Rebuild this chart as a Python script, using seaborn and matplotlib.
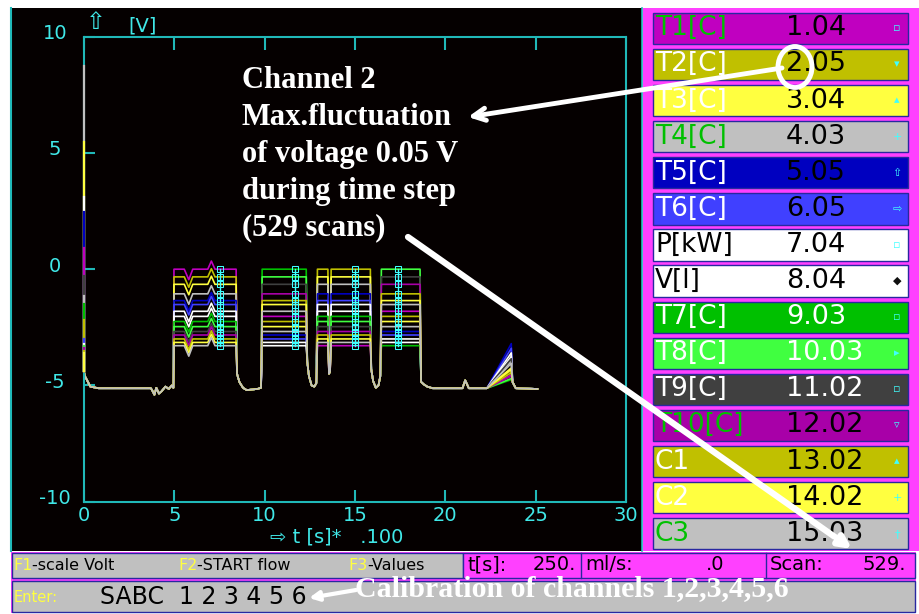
import numpy as np
import pandas as pd
import matplotlib
matplotlib.use("Agg")
import matplotlib.pyplot as plt
from matplotlib.patches import Rectangle, Ellipse
from matplotlib.ticker import FixedLocator
from matplotlib.transforms import ScaledTranslation
import seaborn as sns

plt.rcParams["axes.unicode_minus"] = False

# channels shown in the right-hand panel and plotted as traces
channels = ["T1[C]", "T2[C]", "T3[C]", "T4[C]", "T5[C]", "T6[C]", "P[kW]", "V[l]",
            "T7[C]", "T8[C]", "T9[C]", "T10[C]", "C1", "C2", "C3"]
readings = ["1.04", "2.05", "3.04", "4.03", "5.05", "6.05", "7.04", "8.04",
            "9.03", "10.03", "11.02", "12.02", "13.02", "14.02", "15.03"]

# voltage at t=0 and at the peak of the late ramp, per channel
start_v = [0.9, -2.2, 5.45, -1.15, 2.45, -3.0, 3.1, -3.2, -1.5, -3.3, -0.3, -3.4, -3.5, -3.6, 8.75]
fan_peak = [-4.55, -4.35, -4.25, -3.95, -3.2, -3.4, -3.6, -3.75, -4.75, -4.7, -3.85, -4.6, -4.45, -4.3, -4.05]

# stacked plateau levels (top to bottom) and which channel sits on each level
plateau_levels = [0.0, -0.33, -0.65, -1.06, -1.35, -1.52, -1.81, -2.03, -2.25, -2.47,
                  -2.68, -2.83, -3.0, -3.15, -3.29]
order_p1 = [0, 1, 2, 3, 4, 5, 6, 7, 8, 9, 10, 11, 12, 13, 14]
order_p2 = [8, 9, 10, 11, 12, 13, 14, 0, 1, 2, 3, 4, 5, 6, 7]
order_p3 = [1, 2, 3, 4, 5, 6, 7, 8, 9, 10, 11, 12, 13, 14, 0]
order_p4 = [9, 10, 11, 12, 13, 14, 0, 1, 2, 3, 4, 5, 6, 7, 8]

# common baseline pieces (t in s*100, v in V)
base0_t = [0.0, 0.05, 0.35, 0.8, 3.7, 3.8, 3.9, 4.0, 4.15, 4.3, 4.5, 4.7, 4.85, 4.95]
base0_v = [-4.4, -4.6, -5.05, -5.12, -5.12, -5.25, -5.4, -5.1, -5.35, -5.25, -5.05, -5.15, -5.0, -5.1]
p1_t = [4.98, 5.55, 5.8, 6.02, 6.85, 7.05, 7.25, 8.42]
p1_dv = [0.0, 0.0, -0.45, 0.0, 0.0, 0.35, 0.0, 0.0]
gap1_t = [8.47, 8.6, 8.8, 9.0, 9.6, 9.8]
gap1_v = [-4.5, -4.85, -5.1, -5.2, -5.15, -5.1]
p2_t = [9.86, 12.3]
gap2_t = [12.36, 12.45, 12.6, 12.75, 12.86]
gap2_v = [-4.0, -4.6, -5.0, -5.05, -4.9]
pulse_t = [12.92, 13.5]
gap3_t = [13.56, 13.62]
gap3_v = [-4.5, -4.4]
p3_t = [13.68, 15.85]
gap4_t = [15.9, 16.0, 16.15, 16.3, 16.4]
gap4_v = [-4.3, -4.8, -5.1, -5.0, -4.6]
p4_t = [16.46, 18.6]
gap5_t = [18.66, 18.8, 19.0, 19.3, 20.95, 21.1, 21.3, 22.3]
gap5_v = [-4.85, -4.95, -5.05, -5.12, -5.12, -4.78, -5.12, -5.12]
fan_t = [23.65]
tail_t = [23.72, 23.9, 25.1]
tail_v = [-4.85, -5.12, -5.15]

marker_t = [7.55, 11.7, 15.0, 17.4]

trace_colors = ["#C000C0", "#C0C000", "#FFFF40", "#C0C0C0", "#0000C0", "#4040FF", "#FFFFFF",
                "#FFFFFF", "#00C000", "#40FF40", "#404040", "#A800A8", "#C0C000", "#FFFF40", "#C0C0C0"]
label_colors = ["#00C000", "white", "white", "#00C000", "white", "white", "black", "black",
                "white", "white", "white", "#00C000", "white", "white", "#00C000"]
value_colors = ["black"] * 8 + ["white"] * 3 + ["black"] * 4
panel_marks = ["▫", "▾", "▴", "+", "⇧", "⇨", "▫", "◆", "▫", "▸", "▫", "▿", "▴", "+", "†"]

rows = []
for i, ch in enumerate(channels):
    l1 = plateau_levels[order_p1.index(i)]
    l2 = plateau_levels[order_p2.index(i)]
    l3 = plateau_levels[order_p3.index(i)]
    l4 = plateau_levels[order_p4.index(i)]
    tt = (base0_t + p1_t + gap1_t + p2_t + gap2_t + pulse_t + gap3_t + p3_t
          + gap4_t + p4_t + gap5_t + fan_t + tail_t)
    vv = (base0_v + [l1 + d for d in p1_dv] + gap1_v + [l2, l2] + gap2_v + [l3, l3]
          + gap3_v + [l3, l3] + gap4_v + [l4, l4] + gap5_v + [fan_peak[i]] + tail_v)
    for k, (a, b) in enumerate(zip(tt, vv)):
        rows.append((ch, k, a, b))
df = pd.DataFrame(rows, columns=["ch", "k", "t", "v"])

df_start = pd.DataFrame({"ch": channels * 2,
                         "t": [0.0] * 30,
                         "v": start_v + [base0_v[0]] * 15})
start_order = [channels[i] for i in sorted(range(15), key=lambda j: -start_v[j])]

mk_rows = []
for c, tm in enumerate(marker_t):
    for lv in plateau_levels:
        mk_rows.append((c, tm, lv))
df_mk = pd.DataFrame(mk_rows, columns=["col", "t", "v"])

fig = plt.figure(figsize=(9.19, 6.14), dpi=100)
fig.patch.set_facecolor("white")
W, H = 919, 614

# screen background
bg = fig.add_axes([0, 0, 1, 1], label="bg", zorder=0)
bg.set_xlim(0, W)
bg.set_ylim(H, 0)
bg.axis("off")
bg.add_patch(Rectangle((11, 8), 631, 543, fc="#050000", ec="none"))
bg.plot([11, 11], [8, 551], color="#20B8B8", lw=1.5)
bg.plot([642, 642], [8, 551], color="#20B8B8", lw=1.2)
bg.add_patch(Rectangle((643, 8), 276, 543, fc="#FF40FF", ec="none"))

# channel panel
for i in range(15):
    y0 = 12.7 + i * 36.1
    bg.add_patch(Rectangle((653, y0), 255, 31.3, fc=trace_colors[i], ec="#2828A0", lw=1))
    yc = y0 + 15.6
    bg.text(655, yc, channels[i], color=label_colors[i], fontsize=19, va="center", ha="left")
    bg.text(786, yc, readings[i], color=value_colors[i], fontsize=19.5, va="center", ha="left")
    mcol = "#101010" if i == 7 else "#40FFFF"
    bg.text(897, yc, panel_marks[i], color=mcol, fontsize=8, va="center", ha="center")

# status bars
bg.add_patch(Rectangle((11, 552), 905, 61, fc="#FF40FF", ec="none"))
bg.add_patch(Rectangle((12, 553), 451, 25, fc="#C0C0C0", ec="#2828A0", lw=1))
bg.add_patch(Rectangle((463, 553), 452, 25, fc="#FF40FF", ec="#2828A0", lw=1))
bg.plot([581, 581], [553, 578], color="#2828A0", lw=1)
bg.plot([766, 766], [553, 578], color="#2828A0", lw=1)
bg.add_patch(Rectangle((12, 581), 903, 31, fc="#C0C0C0", ec="#2828A0", lw=1))

for x0, key, rest in [(13, "F1", "-scale Volt"), (178, "F2", "-START flow"), (348, "F3", "-Values")]:
    t1 = bg.text(x0, 565, key, color="#FFFF40", fontsize=11.5, va="center", ha="left")
    bg.annotate(rest, xy=(1, 0.5), xycoords=t1, color="black", fontsize=11.5, va="center", ha="left")
bg.text(467, 565, "t[s]:", fontsize=14, va="center", ha="left")
bg.text(576, 565, "250.", fontsize=14, va="center", ha="right")
bg.text(585, 565, "ml/s:", fontsize=14, va="center", ha="left")
bg.text(724, 565, ".0", fontsize=14, va="center", ha="right")
bg.text(770, 565, "Scan:", fontsize=14, va="center", ha="left")
bg.text(906, 565, "529.", fontsize=14, va="center", ha="right")
bg.text(14, 597, "Enter:", color="#FFFF40", fontsize=10.5, va="center", ha="left")
bg.text(100, 597, "SABC  1 2 3 4 5 6", color="black", fontsize=17, va="center", ha="left")

# axis captions
cyan = "#40E8E8"
bg.text(86, 22, "⇧", color=cyan, fontsize=17, va="center", ha="left")
bg.text(128, 26, "[V]", color=cyan, fontsize=14, va="center", ha="left")
bg.text(270, 537, "⇨ t [s]*   .100", color=cyan, fontsize=14, va="center", ha="left")

# main chart
ax = fig.add_axes([84 / W, 1 - 501.7 / H, 542 / W, 465 / H], zorder=1)
ax.set_facecolor("#050000")
sns.lineplot(data=df, x="t", y="v", hue="ch", hue_order=channels,
             palette=dict(zip(channels, trace_colors)), sort=False, estimator=None,
             legend=False, linewidth=1.2, ax=ax, zorder=2)
sns.lineplot(data=df_mk, x="t", y="v", units="col", estimator=None, sort=False,
             color="#40FFFF", linewidth=1.0, marker="s", markersize=4.5,
             markerfacecolor="none", markeredgecolor="#40FFFF", ax=ax, zorder=2.2)
sns.lineplot(data=df_start, x="t", y="v", hue="ch", hue_order=start_order,
             palette=dict(zip(channels, trace_colors)), sort=False, estimator=None,
             legend=False, linewidth=1.6, ax=ax, zorder=3, clip_on=False)

ax.set_xlim(0, 30)
ax.set_ylim(-10, 10)
ax.set_xlabel("")
ax.set_ylabel("")
ax.set_xticks([0, 5, 10, 15, 20, 25, 30])
ax.set_yticks([-10, -5, 0, 5, 10])
ax.yaxis.set_minor_locator(FixedLocator([0]))
for s in ax.spines.values():
    s.set_color("#20B8B8")
    s.set_linewidth(1.5)
ax.tick_params(axis="x", which="major", direction="in", length=9, width=1.5, color="#20B8B8",
               labelcolor=cyan, labelsize=14, pad=3, top=True)
ax.tick_params(axis="y", which="major", direction="in", length=8, width=1.5, color="#20B8B8",
               labelcolor=cyan, labelsize=14, pad=21)
ax.tick_params(axis="y", which="minor", direction="in", length=16, width=1.5, color="#20B8B8")
shift = ScaledTranslation(0, 5 / 100, fig.dpi_scale_trans)
for lab in ax.get_yticklabels():
    lab.set_horizontalalignment("center")
    lab.set_transform(lab.get_transform() + shift)
ax.grid(False)

# annotations drawn over the screen
ov = fig.add_axes([0, 0, 1, 1], label="ov", zorder=10)
ov.set_xlim(0, W)
ov.set_ylim(H, 0)
ov.axis("off")
ov.patch.set_alpha(0)
serif = dict(family="Liberation Serif", weight="bold", color="white")
ov.text(242, 66, "Channel 2\nMax.fluctuation\nof voltage 0.05 V\nduring time step\n(529 scans)",
        fontsize=22, va="top", ha="left", linespacing=1.36, **serif)
ov.add_patch(Ellipse((795, 67), 34, 41, fill=False, ec="white", lw=3.5))
ov.annotate("", xy=(468, 117), xytext=(782, 68),
            arrowprops=dict(arrowstyle="->", color="white", lw=3.5, shrinkA=0, shrinkB=0,
                            mutation_scale=22))
ov.annotate("", xy=(852, 549), xytext=(408, 237),
            arrowprops=dict(arrowstyle="-|>", color="white", lw=4.5, shrinkA=0, shrinkB=0,
                            mutation_scale=18))
ov.annotate("", xy=(309, 598), xytext=(356, 590),
            arrowprops=dict(arrowstyle="-|>", color="white", lw=3, shrinkA=0, shrinkB=0,
                            mutation_scale=14))
ov.text(355, 589, "Calibration of channels 1,2,3,4,5,6", fontsize=21.5, va="center", ha="left", **serif)

fig.savefig("out.png", dpi=100)
